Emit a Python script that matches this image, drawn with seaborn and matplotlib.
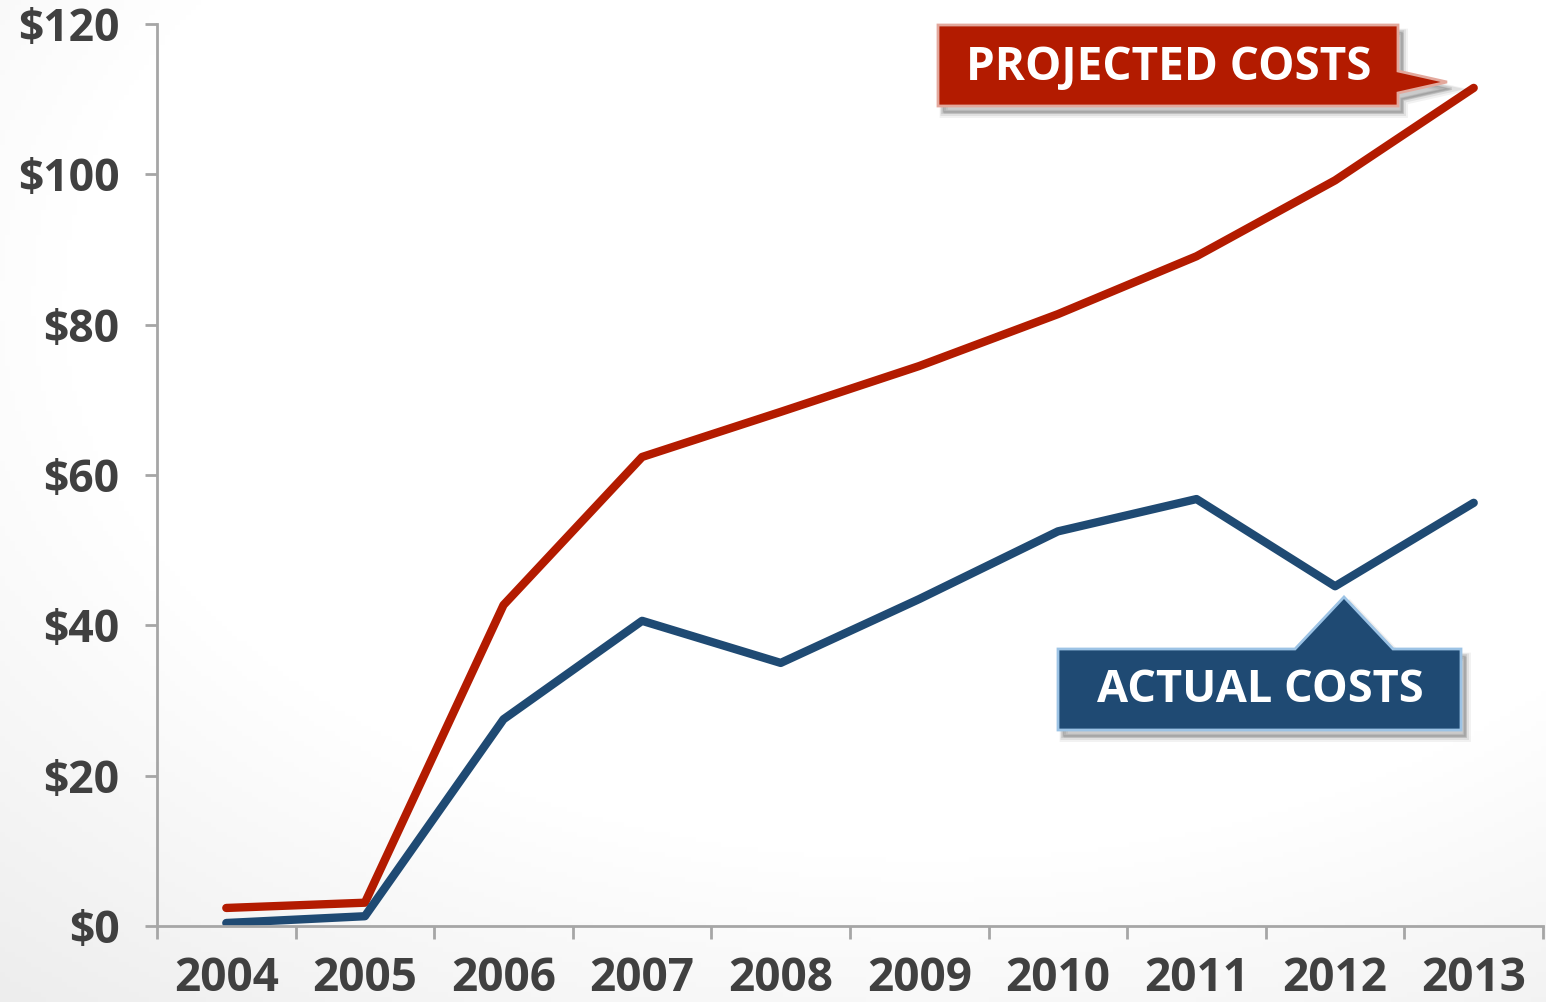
import numpy as np
import pandas as pd
import matplotlib
matplotlib.use("Agg")
import matplotlib.pyplot as plt
import seaborn as sns
from matplotlib.patches import Polygon

years = ["2004", "2005", "2006", "2007", "2008", "2009", "2010", "2011", "2012", "2013"]
projected = [2.4, 3.1, 42.7, 62.4, 68.4, 74.5, 81.4, 89.1, 99.2, 111.5]
actual = [0.4, 1.3, 27.5, 40.6, 35.0, 43.5, 52.5, 56.8, 45.2, 56.3]
y_ticks = [0, 20, 40, 60, 80, 100, 120]
y_tick_labels = ["$0", "$20", "$40", "$60", "$80", "$100", "$120"]

RED = "#B31B00"
BLUE = "#1F4A73"
TEXT = "#404040"
SPINE = "#A6A6A6"

sns.set_theme(style="white")
plt.rcParams["font.family"] = ["Open Sans", "DejaVu Sans"]

W, H = 1546, 1002
fig = plt.figure(figsize=(W / 100, H / 100), dpi=100)

# faint vignette, strongest toward the lower corners
bg = fig.add_axes([0, 0, 1, 1], zorder=-10)
yy, xx = np.mgrid[0:1:200j, 0:1:300j]
r = np.sqrt(((xx - 0.6) / 0.8) ** 2 + ((yy - 0.3) / 0.8) ** 2)
shade = 1.0 - 0.07 * np.clip(r - 0.7, 0, None) / 0.45
bg.imshow(np.dstack([shade] * 3), extent=[0, 1, 0, 1], aspect="auto",
          origin="upper", vmin=0, vmax=1)
bg.set_axis_off()

ax = fig.add_axes([157 / W, 1 - 926 / H, (1543 - 157) / W, (926 - 24) / H])
ax.patch.set_alpha(0)

df = pd.DataFrame({"year": years * 2,
                   "cost": projected + actual,
                   "series": ["Projected"] * len(years) + ["Actual"] * len(years)})
df["pos"] = list(range(len(years))) * 2

sns.lineplot(data=df, x="pos", y="cost", hue="series",
             palette={"Projected": RED, "Actual": BLUE},
             linewidth=6, ax=ax, legend=False, sort=False,
             solid_capstyle="round", clip_on=False)

ax.set_xlim(-0.5, len(years) - 0.5)
ax.set_ylim(0, 120)
ax.set_xlabel("")
ax.set_ylabel("")

ax.set_yticks(y_ticks)
ax.set_yticklabels(y_tick_labels)
ax.set_xticks(np.arange(-0.5, len(years), 1.0), minor=False)
ax.set_xticklabels([])
ax.set_xticks(np.arange(len(years)), minor=True)
ax.set_xticklabels(years, minor=True)

for s in ["top", "right"]:
    ax.spines[s].set_visible(False)
for s in ["left", "bottom"]:
    ax.spines[s].set_color(SPINE)
    ax.spines[s].set_linewidth(2)

ax.tick_params(axis="y", which="major", direction="out", length=9, width=2,
               color=SPINE, left=True, pad=18, labelsize=32, labelcolor=TEXT)
ax.tick_params(axis="x", which="major", direction="out", length=9, width=2,
               color=SPINE, bottom=True)
ax.tick_params(axis="x", which="minor", length=0, pad=21, labelsize=33,
               labelcolor=TEXT)
for lab in ax.get_yticklabels() + ax.get_xticklabels(minor=True):
    lab.set_fontweight("bold")


def px(points):
    return [(x / W, 1 - y / H) for x, y in points]


def callout(points, face, edge, label, center, size):
    sh = [(x + 4, y + 6) for x, y in points]
    for k, a in zip([6, 4, 2], [0.05, 0.07, 0.09]):
        shp = [(x + k * 0.3, y + k * 0.3) for x, y in sh]
        fig.patches.append(Polygon(px(shp), closed=True, transform=fig.transFigure,
                                   facecolor="black", edgecolor="black",
                                   linewidth=k, alpha=a, zorder=5))
    fig.patches.append(Polygon(px(points), closed=True, transform=fig.transFigure,
                               facecolor=face, edgecolor=edge, linewidth=2,
                               joinstyle="miter", zorder=6))
    fig.text(center[0] / W, 1 - center[1] / H, label, color="white",
             fontsize=size, fontweight="bold", ha="center", va="center",
             zorder=7)


callout([(938, 25), (1398, 25), (1398, 71), (1447, 82), (1398, 93), (1398, 106), (938, 106)],
        RED, "#E3A89C", "PROJECTED COSTS", (1169, 67), 33)
callout([(1058, 649), (1295, 649), (1344, 597), (1393, 649), (1461, 649), (1461, 730), (1058, 730)],
        BLUE, "#9CC3E5", "ACTUAL COSTS", (1260, 691), 32.5)

fig.savefig("out.png", dpi=100)
